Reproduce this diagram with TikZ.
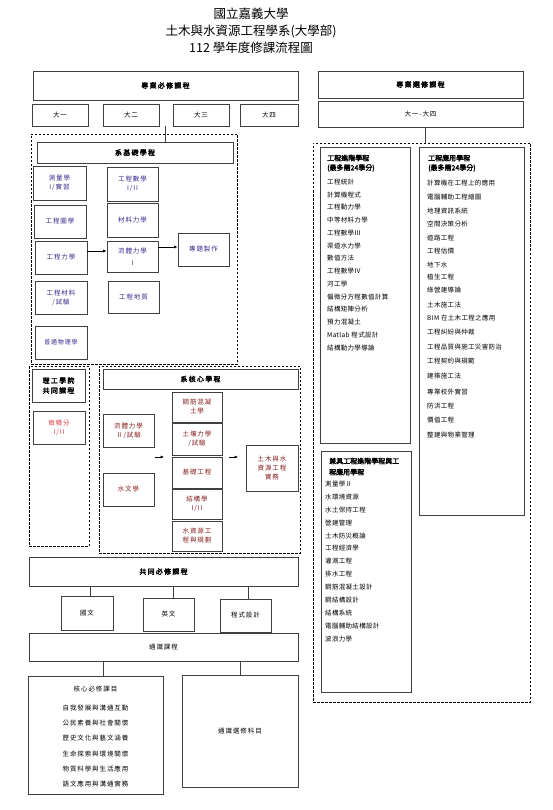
\documentclass[tikz,border=0pt]{standalone}
\usepackage{fontspec}
\usetikzlibrary{arrows.meta}
\setmainfont{Noto Sans CJK TC}
\newfontfamily\cjk[LetterSpace=14]{Noto Sans CJK TC}
\newfontfamily\cjkl[LetterSpace=5]{Noto Sans CJK TC}
\newfontfamily\cjkh[LetterSpace=18,FakeBold=2.5]{Noto Sans CJK TC}
\newfontfamily\cjkhl[FakeBold=2.5]{Noto Sans CJK TC}
\definecolor{cblue}{RGB}{60,40,140}
\definecolor{cred}{RGB}{135,30,30}
\definecolor{cpink}{RGB}{215,60,70}
\newcommand\B[7]{\node[#1,minimum width={(#5-#3)*1pt},minimum height={(#6-#4)*1pt}] (#2) at ({(#3+#5)/2},{(#4+#6)/2}) {#7};}
\tikzset{
 bx/.style={draw=black!75, line width=0.8pt, inner sep=0pt, align=center, font=\cjk\fontsize{6.5}{9}\selectfont},
 dbx/.style={draw=black, line width=0.8pt, dash pattern=on 2.5pt off 1.5pt, inner sep=0pt},
 hd/.style={bx, font=\cjkh\fontsize{7}{10}\selectfont},
 arr/.style={-{Latex[length=3.5pt,width=3.2pt]}, line width=0.7pt},
 ln/.style={line width=0.8pt, draw=black!75},
 item/.style={anchor=west, inner sep=0pt, font=\cjkl\fontsize{6.5}{8}\selectfont},
 lhd/.style={anchor=west, inner sep=0pt, font=\cjkhl\fontsize{7}{8}\selectfont},
}
\begin{document}
\begin{tikzpicture}[x=1pt,y=-1pt]
\useasboundingbox[fill=white] (0,0) rectangle (553,810);
% title
\node[font=\fontsize{12.5}{14}\selectfont] (t1) at (251,14) {國立嘉義大學};
\node[font=\fontsize{12.5}{14}\selectfont] (t2) at (251,31) {土木與水資源工程學系(大學部)};
\node[font=\fontsize{12.5}{14}\selectfont] (t3) at (251,48) {112 學年度修課流程圖};
% left top
\B{hd}{zb}{33}{71}{298}{100}{專業必修課程}
\B{bx}{y1}{32}{104}{88}{126}{大一}
\B{bx}{y2}{103}{104}{159}{126}{大二}
\B{bx}{y3}{173}{104}{229}{126}{大三}
\B{bx}{y4}{240}{104}{298}{126}{大四}
% base program
\B{dbx}{d1}{31}{134}{237}{364}{}
\B{hd}{bh}{37}{142}{233}{163}{系基礎學程}
\coordinate (yj) at (165,126);
\draw[ln] (yj) -- (yj |- bh.north);
\begin{scope}[every node/.append style={text=cblue}]
\B{bx}{b1}{33}{166}{86}{200}{測量學\\I/實習}
\B{bx}{b2}{107}{167}{158}{201}{工程數學\\I/II}
\B{bx}{b3}{34}{205}{86}{238}{工程圖學}
\B{bx}{b4}{107}{203}{158}{237}{材料力學}
\B{bx}{b5}{35}{241}{87}{274}{工程力學}
\B{bx}{b6}{107}{241}{158}{272}{流體力學\\[3pt]I}
\B{bx}{b7}{178}{233}{229}{266}{專題製作}
\B{bx}{b8}{35}{281}{87}{314}{工程材料\\/試驗}
\B{bx}{b9}{108}{281}{159}{313}{工程地質}
\B{bx}{b10}{35}{326}{87}{359}{\fontsize{6}{8}\selectfont 普通物理學}
\end{scope}
\draw[arr] (b5.east |- 0,251) -- (b6.west |- 0,251);
\draw[arr] (b6.east |- 0,247) -- (b7.west |- 0,247);
% college
\B{dbx}{d2}{29}{366}{89}{546}{}
\B{hd}{ch}{32}{369}{85}{402}{理工學院\\共同課程}
\B{bx}{c1}{33}{411}{85}{444}{\color{cpink}微積分\\\color{cpink}I/II}
% core
\B{dbx}{d3}{99}{366}{300}{553}{}
\B{hd}{kh}{103}{369}{298}{389}{系核心學程}
\begin{scope}[every node/.append style={text=cred}]
\B{bx}{k1}{103}{414}{154}{447}{流體力學\\Ⅱ/試驗}
\B{bx}{k2}{103}{473}{154}{506}{水文學}
\B{bx}{k3}{172}{392}{222}{422}{鋼筋混凝\\土學}
\B{bx}{k4}{172}{423}{222}{455}{土壤力學\\/試驗}
\B{bx}{k5}{172}{457}{222}{488}{基礎工程}
\B{bx}{k6}{172}{489}{222}{519}{結構學\\I/II}
\B{bx}{k7}{172}{521}{222}{551}{水資源工\\程與規劃}
\B{bx}{k8}{246}{445}{298}{491}{土木與水\\資源工程\\實務}
\end{scope}
\coordinate (a1s) at (155,457); \coordinate (a1e) at (164,457);
\coordinate (a2s) at (229,457); \coordinate (a2e) at (238,457);
\draw[arr] (a1s) -- (a1e);
\draw[arr] (a2s) -- (a2e);
% common required
\B{hd}{gb}{29}{557}{298}{586}{共同必修課程}
\B{bx}{g1}{61}{596}{113}{630}{國文}
\B{bx}{g2}{143}{598}{194}{631}{英文}
\B{bx}{g3}{220}{599}{271}{632}{程式設計}
\draw[ln] (gb.south -| 90,0) -- (g1.north -| 90,0);
\draw[ln] (gb.south -| 173,0) -- (g2.north -| 173,0);
\draw[ln] (gb.south -| 248,0) -- (g3.north -| 248,0);
\B{bx}{ts}{29}{633}{298}{661}{通識課程}
\B{bx}{tc}{28}{676}{163}{794}{}
\B{bx}{te}{182}{675}{298}{787}{通識選修科目}
\draw[ln] (ts.south -| 103,0) -- (tc.north -| 103,0);
\draw[ln] (ts.south -| 240,0) -- (te.north -| 240,0);
\begin{scope}[every node/.style={inner sep=0pt, font=\cjk\fontsize{6.5}{8}\selectfont}]
\node (tc0) at (95.5,689) {核心必修課目};
\node (tc1) at (95.5,708) {自我發展與溝通互動};
\node (tc2) at (95.5,723) {公民素養與社會關懷};
\node (tc3) at (95.5,738) {歷史文化與藝文涵養};
\node (tc4) at (95.5,754) {生命探索與環境關懷};
\node (tc5) at (95.5,769) {物質科學與生活應用};
\node (tc6) at (95.5,784) {語文應用與溝通實務};
\end{scope}
% right side
\B{hd}{eb}{318}{71}{523}{98}{專業選修課程}
\B{bx}{ey}{318}{101}{523}{127}{大一-大四}
\B{dbx}{d4}{313}{143}{530}{702}{}
\coordinate (ej) at (425,127);
\draw[ln] (ej) -- (ej |- d4.north);
\B{bx}{p1}{320}{147}{410}{443}{}
\B{bx}{p2}{419}{147}{524}{515}{}
\B{bx}{p3}{321}{451}{411}{692}{}
\node[lhd] (p1h1) at (327,158) {工程進階學程};
\node[lhd] (p1h2) at (327,168) {(最多需24學分)};
\foreach \t [count=\i] in {工程統計,計算機程式,工程動力學,中等材料力學,工程數學Ⅲ,渠道水力學,數值方法,工程數學Ⅳ,河工學,偏微分方程數值計算,結構矩陣分析,預力混凝土,Matlab 程式設計,結構動力學導論}
  \node[item] (pa\i) at (327,{182+(\i-1)*12.75}) {\t};
\node[lhd] (p2h1) at (428,158) {工程應用學程};
\node[lhd] (p2h2) at (428,168) {(最多需24學分)};
\foreach \t/\yy [count=\i] in {計算機在工程上的應用/183,電腦輔助工程繪圖/197,地理資訊系統/211,空間決策分析/224,道路工程/238,工程估價/251,地下水/265,植生工程/277,綠營建導論/290,土木施工法/305,BIM 在土木工程之應用/318,工程糾紛與仲裁/332,工程品質與施工災害防治/347,工程契約與規範/361,建築施工法/376,專業校外實習/392,防洪工程/406,價值工程/420,整建與物業管理/435}
  \node[item] (pb\i) at (427,\yy) {\t};
\node[lhd] (p3h1) at (329,461) {兼具工程進階學程與工};
\node[lhd] (p3h2) at (329,472) {程應用學程};
\foreach \t [count=\i] in {測量學Ⅱ,水環境資源,水土保持工程,營建管理,土木防災概論,工程經濟學,灌溉工程,排水工程,鋼筋混凝土設計,鋼結構設計,結構系統,電腦輔助結構設計,波浪力學}
  \node[item] (pc\i) at (325,{484+(\i-1)*12.9}) {\t};
\end{tikzpicture}
\end{document}
